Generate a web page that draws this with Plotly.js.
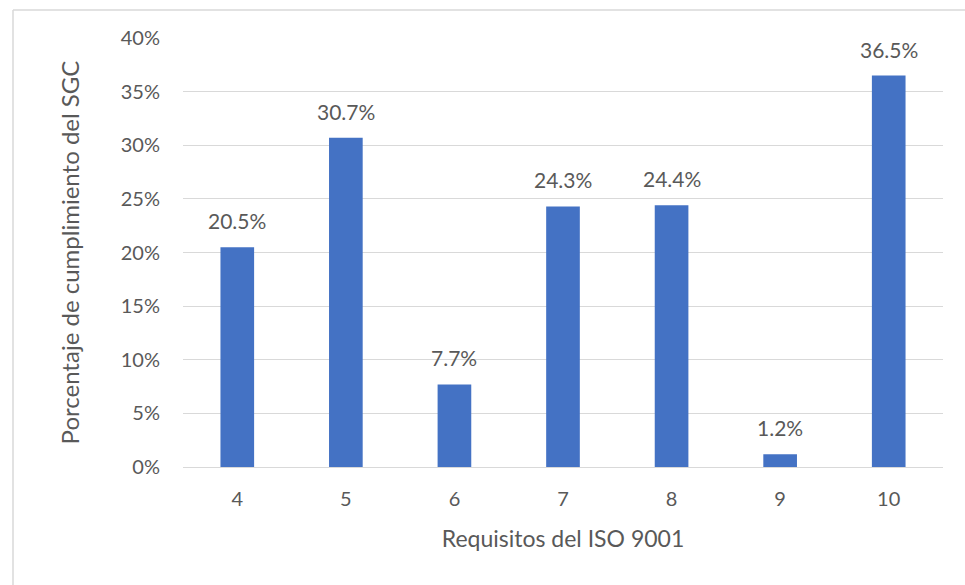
<!DOCTYPE html>
<html>
<head>
<meta charset="utf-8">
<script src="https://cdn.plot.ly/plotly-3.0.1.min.js"></script>
<style>html,body{margin:0;padding:0;background:#fff;}#chart{width:965px;height:585px;}</style>
</head>
<body>
<div id="chart"></div>
<script>
const categories = ["4", "5", "6", "7", "8", "9", "10"];
const values = [20.5, 30.7, 7.7, 24.3, 24.4, 1.2, 36.5];
const labels = ["20.5%", "30.7%", "7.7%", "24.3%", "24.4%", "1.2%", "36.5%"];
const yTickVals = [0, 5, 10, 15, 20, 25, 30, 35, 40];
const yTickText = ["0%", "5%", "10%", "15%", "20%", "25%", "30%", "35%", "40%"];

const textColor = "#595959";
const fontFam = "Lato, 'Open Sans', sans-serif";

const trace = {
  type: "bar",
  x: categories,
  y: values,
  marker: {color: "#4472C4"},
  hoverinfo: "none"
};

const annotations = categories.map((c, i) => ({
  x: i, y: values[i], xref: "x", yref: "y",
  text: labels[i], showarrow: false,
  yanchor: "bottom", yshift: 12,
  font: {family: fontFam, size: 21, color: textColor}
}));

const layout = {
  width: 965, height: 585,
  margin: {l: 183, r: 22, t: 38, b: 118},
  paper_bgcolor: "#ffffff",
  plot_bgcolor: "#ffffff",
  showlegend: false,
  bargap: 0.69,
  font: {family: fontFam, size: 20, color: textColor},
  xaxis: {
    type: "category",
    range: [-0.5, 6.5],
    showgrid: false,
    showline: true, linecolor: "#D9D9D9", linewidth: 1,
    ticks: "", ticklabelstandoff: 14,
    tickfont: {family: fontFam, size: 20, color: textColor},
    title: {text: "Requisitos del ISO 9001", standoff: 21,
            font: {family: fontFam, size: 23, color: textColor}}
  },
  yaxis: {
    range: [0, 40],
    tickvals: yTickVals, ticktext: yTickText,
    showgrid: true, gridcolor: "#D9D9D9", gridwidth: 1,
    zeroline: false, showline: false,
    ticks: "", ticklabelstandoff: 22,
    tickfont: {family: fontFam, size: 20, color: textColor},
    title: {text: "Porcentaje de cumplimiento del SGC", standoff: 34,
            font: {family: fontFam, size: 24, color: textColor}}
  },
  annotations: annotations,
  shapes: [
    {type: "line", xref: "paper", yref: "paper",
     x0: (13 - 183) / 760, x1: (965 - 183) / 760,
     y0: (585 - 118 - 10) / 429, y1: (585 - 118 - 10) / 429,
     line: {color: "#D9D9D9", width: 1.5}},
    {type: "line", xref: "paper", yref: "paper",
     x0: (13 - 183) / 760, x1: (13 - 183) / 760,
     y0: (585 - 118 - 10) / 429, y1: -118 / 429,
     line: {color: "#D9D9D9", width: 1.5}}
  ]
};

Plotly.newPlot("chart", [trace], layout, {displayModeBar: false, staticPlot: true});
</script>
</body>
</html>
